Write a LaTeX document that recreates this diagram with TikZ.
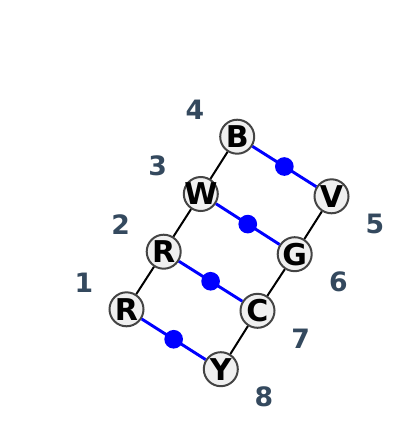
\documentclass[tikz,border=0pt]{standalone}
\usepackage{fontspec}
\setmainfont{DejaVu Sans}
\usetikzlibrary{positioning}
\definecolor{slate}{HTML}{34495E}
\definecolor{capfill}{HTML}{F0F0F0}
\definecolor{caprim}{HTML}{444444}
\tikzset{
  ladder/.style={
	x=0.75pt, y=-0.75pt, % one unit is one pixel of the reference
	every node/.style={inner sep=0pt},
	base/.style={circle, draw=caprim, line width=1.5pt, fill=capfill, inner sep=-4pt, minimum size=25.5pt, font=\fontsize{22.5}{22.5}\selectfont\bfseries}, % sets the look of each base
	dot/.style={circle, fill=blue, minimum size=14pt}, % the blue bond marks
	rung/.style={blue, line width=2.2pt}, % the blue pairing lines
	rail/.style={black, line width=1.5pt}, % the black backbone
	index/.style={text=slate, font=\fontsize{20}{20}\selectfont\bfseries}, % the position numbers
  }
}
\begin{document}
\begin{tikzpicture}[ladder]
	  \useasboundingbox (0,0) rectangle (400,447);
	  \node[base] (r1) at (126.5,309.3) {R};
	  \node[base] (r2) at (163.7,251.7) {R};
	  \node[base] (w) at (200.8,194) {W};
	  \node[base] (b) at (237.2,136.7) {B};
	  \node[base] (y) at (220.8,369.2) {Y};
	  \node[base] (c) at (257.5,310.8) {C};
	  \node[base] (g) at (294.7,254.2) {G};
	  \node[base] (v) at (331.5,196.3) {V};
	  \draw[rail] (r1) -- (r2) -- (w) -- (b)
		  (y) -- (c) -- (g) -- (v);
	  \draw[rung] (r1) -- node[dot] (d1) {} (y)
		  (r2) -- node[dot] (d2) {} (c)
		  (w) -- node[dot] (d3) {} (g)
		  (b) -- node[dot] (d4) {} (v);
	  \node[index] (n1) at (84,282.3) {1};
	  \node[index] (n2) at (120.7,225) {2};
	  \node[index] (n3) at (157.7,166) {3};
	  \node[index] (n4) at (195,110) {4};
	  \node[index] (n5) at (375,224) {5};
	  \node[index] (n6) at (338.3,282.3) {6};
	  \node[index] (n7) at (300.7,339) {7};
	  \node[index] (n8) at (264,396.7) {8};
\end{tikzpicture}
\end{document}
